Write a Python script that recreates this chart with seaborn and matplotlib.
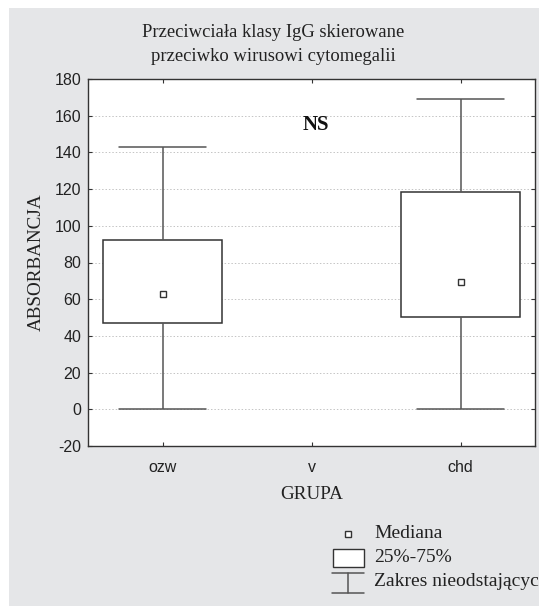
import numpy as np
import pandas as pd
import seaborn as sns
import matplotlib
matplotlib.use("Agg")
import matplotlib.pyplot as plt
from matplotlib.patches import Rectangle
from matplotlib.lines import Line2D

# ---- data ----
groups = ["ozw", "v", "chd"]
ozw_stats = [0, 47, 63, 92, 143]      # min, q1, median, q3, max
chd_stats = [0, 50.5, 69.5, 118.5, 169]
yticks = [-20, 0, 20, 40, 60, 80, 100, 120, 140, 160, 180]

title = "Przeciwciała klasy IgG skierowane\nprzeciwko wirusowi cytomegalii"
xlabel = "GRUPA"
ylabel = "ABSORBANCJA"
legend_labels = ["Mediana", "25%-75%", "Zakres nieodstających"]

df = pd.DataFrame({
    "grupa": ["ozw"] * len(ozw_stats) + ["chd"] * len(chd_stats),
    "val": ozw_stats + chd_stats,
})

sns.set_theme(style="white")
plt.rcParams["font.family"] = ["Liberation Sans", "DejaVu Sans"]

W, H = 539, 606
fig = plt.figure(figsize=(W / 100, H / 100), dpi=100)
fig.patch.set_facecolor("white")
bg = "#e5e6e8"
fig.patches.append(Rectangle((9 / W, 0), 1, 1 - 8 / H, transform=fig.transFigure,
                             facecolor=bg, edgecolor="none", zorder=-10))

ax = fig.add_axes([88 / W, 1 - 446 / H, (535 - 88) / W, (446 - 79) / H])
ax.set_facecolor("white")

box_col = "#555555"
sns.boxplot(data=df, x="grupa", y="val", order=groups, ax=ax, whis=(0, 100),
            width=0.8, color="white", linecolor=box_col, linewidth=1.1,
            showcaps=True, fill=True,
            medianprops=dict(visible=False),
            capprops=dict(color=box_col, linewidth=1.1),
            whiskerprops=dict(color=box_col, linewidth=1.1),
            boxprops=dict(edgecolor="#333333", linewidth=1.1))
# widen caps to reference proportion
for line in ax.lines:
    xd = line.get_xdata()
    if len(xd) == 2 and xd[0] != xd[1]:
        c = (xd[0] + xd[1]) / 2
        line.set_xdata([c - 0.295, c + 0.295])

sns.pointplot(data=df, x="grupa", y="val", order=groups, ax=ax, estimator="median",
              errorbar=None, linestyle="none", marker="s", markersize=4.5,
              markerfacecolor="white", markeredgecolor="#333333", markeredgewidth=1.0,
              color="#333333")

ax.set_xlim(-0.5, 2.5)
ax.set_ylim(-20, 180)
ax.set_yticks(yticks)
ax.set_yticklabels([str(t) for t in yticks], fontsize=11.5, color="#222222")
ax.set_xticks(range(len(groups)))
ax.set_xticklabels(groups, fontsize=11.5, color="#222222")
ax.grid(axis="y", linestyle=(0, (1.5, 2)), color="#c4c4c4", linewidth=0.7)
ax.set_axisbelow(True)
ax.tick_params(direction="in", length=3, width=0.8, color="#333333",
               top=True, right=True, left=True, bottom=True, pad=5)
ax.tick_params(axis="x", pad=10)
for s in ax.spines.values():
    s.set_visible(True)
    s.set_color("#333333")
    s.set_linewidth(1.0)

serif = ["Liberation Serif", "DejaVu Serif"]
ax.set_xlabel(xlabel, family=serif, fontsize=13.8, color="#222222", labelpad=8)
ax.set_ylabel(ylabel, family=serif, fontsize=13.8, color="#222222", labelpad=7)
ax.text(1.03, 155, "NS", family=serif, fontsize=15, fontweight="bold",
        ha="center", va="center", color="#111111")

fig.text(273 / W, 1 - 44.5 / H, title, family=serif, fontsize=13.4, ha="center",
         va="center", color="#222222", linespacing=1.55)

# ---- legend (drawn in figure pixels) ----
def fx(px):
    return px / W

def fy(py):
    return 1 - py / H

fig.add_artist(Line2D([fx(348)], [fy(534)], marker="s", markersize=4.5,
                      markerfacecolor="white", markeredgecolor="#333333",
                      markeredgewidth=1.0, linestyle="none", transform=fig.transFigure))
fig.patches.append(Rectangle((fx(333), fy(567)), fx(364) - fx(333), fy(549) - fy(567),
                             transform=fig.transFigure, facecolor="white",
                             edgecolor="#333333", linewidth=1.0))
for yy in (573, 593):
    fig.add_artist(Line2D([fx(332), fx(364)], [fy(yy), fy(yy)], color=box_col,
                          linewidth=1.1, transform=fig.transFigure))
fig.add_artist(Line2D([fx(348), fx(348)], [fy(573), fy(593)], color=box_col,
                      linewidth=1.1, transform=fig.transFigure))
for lab, yy in zip(legend_labels, (533, 557, 582)):
    fig.text(fx(374), fy(yy), lab, family=serif, fontsize=14, ha="left",
             va="center", color="#222222")

fig.savefig("out.png", dpi=100, facecolor=fig.get_facecolor())
